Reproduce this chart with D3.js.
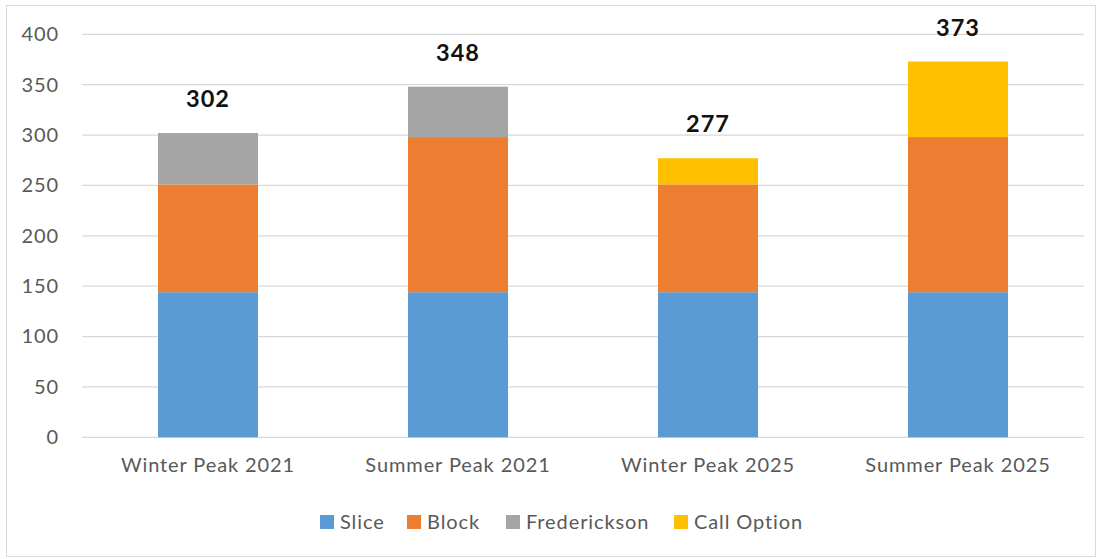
<!DOCTYPE html>
<html>
<head>
<meta charset="utf-8">
<script src="https://cdn.jsdelivr.net/npm/d3@7"></script>
<style>
  body { margin: 0; background: #fff; }
  svg { display: block; font-family: Lato, "Open Sans", sans-serif; }
</style>
</head>
<body>
<svg id="chart" width="1102" height="559"></svg>
<script>
// chart data
const categories = ["Winter Peak 2021", "Summer Peak 2021", "Winter Peak 2025", "Summer Peak 2025"];
const seriesNames = ["Slice", "Block", "Frederickson", "Call Option"];
const slice = [144, 144, 144, 144];
const block = [107, 154, 107, 154];
const frederickson = [51, 50, 0, 0];
const callOption = [0, 0, 26, 75];
const yTicks = [0, 50, 100, 150, 200, 250, 300, 350, 400];
const colors = ["#5B9BD5", "#ED7D31", "#A5A5A5", "#FFC000"];

const rows = categories.map((c, i) => ({
  cat: c,
  "Slice": slice[i],
  "Block": block[i],
  "Frederickson": frederickson[i],
  "Call Option": callOption[i]
}));

const svg = d3.select("#chart");

// outer border
svg.append("rect")
  .attr("x", 6.5).attr("y", 5.5)
  .attr("width", 1089).attr("height", 551)
  .attr("fill", "#fff")
  .attr("stroke", "#D9D9D9");

const x = d3.scaleBand()
  .domain(categories)
  .range([83, 1083])
  .paddingInner(0.6)
  .paddingOuter(0.3);

const y = d3.scaleLinear()
  .domain([0, 400])
  .range([437.3, 34.3]);

// gridlines
svg.append("g")
  .selectAll("line")
  .data(yTicks)
  .enter()
  .append("line")
  .attr("x1", 82).attr("x2", 1084)
  .attr("y1", d => y(d)).attr("y2", d => y(d))
  .attr("stroke", "#D9D9D9")
  .attr("stroke-width", 1.3);

// y axis labels
const yAxis = d3.axisLeft(y).tickValues(yTicks).tickSize(0).tickPadding(23);
svg.append("g")
  .attr("transform", "translate(82,0)")
  .call(yAxis)
  .call(g => g.select(".domain").remove())
  .selectAll("text")
  .attr("fill", "#595959")
  .attr("font-size", "20px")
  .attr("letter-spacing", "0.9px")
  .attr("font-family", "Lato, sans-serif");

// stacked bars
const stack = d3.stack().keys(seriesNames)(rows);

svg.append("g")
  .selectAll("g")
  .data(stack)
  .enter()
  .append("g")
  .attr("fill", (d, i) => colors[i])
  .selectAll("rect")
  .data(d => d)
  .enter()
  .append("rect")
  .attr("x", d => x(d.data.cat))
  .attr("width", x.bandwidth())
  .attr("y", d => y(d[1]))
  .attr("height", d => y(d[0]) - y(d[1]));

// total labels
svg.append("g")
  .selectAll("text")
  .data(rows)
  .enter()
  .append("text")
  .attr("x", d => x(d.cat) + x.bandwidth() / 2)
  .attr("y", d => y(seriesNames.reduce((s, k) => s + d[k], 0)) - 26)
  .attr("text-anchor", "middle")
  .attr("font-size", "23.5px")
  .attr("letter-spacing", "1px")
  .attr("font-weight", "bold")
  .attr("fill", "#111")
  .text(d => seriesNames.reduce((s, k) => s + d[k], 0));

// x axis labels
const xAxis = d3.axisBottom(x).tickSize(0).tickPadding(21);
svg.append("g")
  .attr("transform", "translate(0,437.3)")
  .call(xAxis)
  .call(g => g.select(".domain").remove())
  .selectAll("text")
  .attr("fill", "#595959")
  .attr("font-size", "20px")
  .attr("letter-spacing", "0.9px")
  .attr("font-family", "Lato, sans-serif");

// legend
const legendX = [320, 407, 506, 674];
const legend = svg.append("g")
  .selectAll("g")
  .data(seriesNames)
  .enter()
  .append("g")
  .attr("transform", (d, i) => "translate(" + legendX[i] + ",529)");

legend.append("rect")
  .attr("x", 0).attr("y", -14)
  .attr("width", 14).attr("height", 14)
  .attr("fill", (d, i) => colors[i]);

legend.append("text")
  .attr("x", 20).attr("y", 0)
  .attr("font-size", "20px")
  .attr("letter-spacing", "0.9px")
  .attr("fill", "#595959")
  .text(d => d);
</script>
</body>
</html>
